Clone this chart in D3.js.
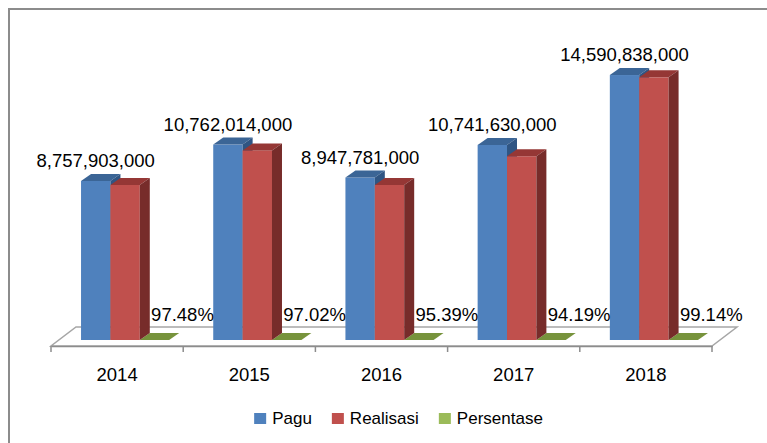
<!DOCTYPE html>
<html>
<head>
<meta charset="utf-8">
<script src="https://cdnjs.cloudflare.com/ajax/libs/d3/7.8.5/d3.min.js"></script>
<style>
  body { margin: 0; background: #fff; }
  text { font-family: "Liberation Sans", Arial, sans-serif; fill: #000; }
</style>
</head>
<body>
<div id="chart"></div>
<script>
// data
const years = ['2014', '2015', '2016', '2017', '2018'];
const pagu = [8757903000, 10762014000, 8947781000, 10741630000, 14590838000];
const realisasi = [8537000000, 10441000000, 8535000000, 10118000000, 14465000000];
const persentase = [97.48, 97.02, 95.39, 94.19, 99.14];
const seriesNames = ['Pagu', 'Realisasi', 'Persentase'];

const W = 767, H = 443;

// colours: front, top, side
const palette = {
  Pagu: ['#4f81bd', '#3b6596', '#2f5583'],
  Realisasi: ['#c0504d', '#953735', '#772c2a'],
  Persentase: ['#9bbb59', '#77933c', '#5f7530']
};

const svg = d3.select('#chart').append('svg')
  .attr('width', W)
  .attr('height', H);

// outer frame (runs off right / bottom edges)
svg.append('rect')
  .attr('x', 9).attr('y', 9)
  .attr('width', 820).attr('height', 500)
  .attr('fill', 'none')
  .attr('stroke', '#8c8c8c')
  .attr('stroke-width', 2);

// scales
const x = d3.scaleBand().domain(years).range([51, 712]).padding(0);
const xs = d3.scaleBand().domain(seriesNames).range([0, x.bandwidth()])
  .paddingInner(0).paddingOuter(0.75);
const y = d3.scaleLinear().domain([0, 16e9]).range([346, 346 - 16 * 18.16]);

// 3d offsets
const floorDx = 25, floorDy = -19;   // floor depth
const shiftX = 8, shiftY = -6;       // bar front plane inside floor
const dX = 10, dY = -7;              // bar depth

// floor
const x0 = x.range()[0], x1 = x.range()[1], yb = y(0);
svg.append('polygon')
  .attr('points', [[x0, yb], [x1, yb], [x1 + floorDx, yb + floorDy], [x0 + floorDx, yb + floorDy]].join(' '))
  .attr('fill', '#fff')
  .attr('stroke', '#a6a6a6')
  .attr('stroke-width', 1.5);

// axis front line + ticks
const xAxis = d3.axisBottom(x).tickSize(0).tickFormat(d => d);
const gx = svg.append('g')
  .attr('transform', `translate(0, ${yb})`)
  .call(xAxis);
gx.select('.domain').attr('stroke', '#8c8c8c').attr('stroke-width', 1.5);
gx.selectAll('text')
  .attr('font-size', '18.5px')
  .attr('y', 35)
  .attr('dy', 0)
  .style('font-family', '"Liberation Sans", Arial, sans-serif');

const bounds = years.map(d => x(d)).concat([x1]);
svg.append('g').selectAll('line')
  .data(bounds)
  .join('line')
  .attr('x1', d => d).attr('x2', d => d)
  .attr('y1', yb).attr('y2', yb + 6)
  .attr('stroke', '#8c8c8c')
  .attr('stroke-width', 1.5);

// bars
const rows = years.map((yr, i) => ({
  year: yr,
  vals: [
    { key: 'Persentase', v: persentase[i] },
    { key: 'Pagu', v: pagu[i] },
    { key: 'Realisasi', v: realisasi[i] }
  ]
}));

function box(g, left, w, top, bottom, cols) {
  // front
  g.append('rect')
    .attr('x', left).attr('y', top)
    .attr('width', w).attr('height', Math.max(0, bottom - top))
    .attr('fill', cols[0]);
  // top
  g.append('polygon')
    .attr('points', [[left, top], [left + w, top], [left + w + dX, top + dY], [left + dX, top + dY]].join(' '))
    .attr('fill', cols[1]);
  // side
  g.append('polygon')
    .attr('points', [[left + w, top], [left + w + dX, top + dY], [left + w + dX, bottom + dY], [left + w, bottom]].join(' '))
    .attr('fill', cols[2]);
}

const bars = svg.append('g').attr('transform', `translate(${shiftX}, ${shiftY})`);
rows.forEach(r => {
  const g = bars.append('g');
  r.vals.forEach(s => {
    box(g, x(r.year) + xs(s.key), xs.bandwidth(), y(s.v), y(0), palette[s.key]);
  });
});

// value labels for Pagu
svg.append('g').selectAll('text')
  .data(years)
  .join('text')
  .attr('x', (d, i) => x(d) + xs('Pagu') + xs.bandwidth() / 2 + shiftX)
  .attr('y', (d, i) => y(pagu[i]) + shiftY - 14)
  .attr('text-anchor', 'middle')
  .attr('font-size', '18.5px')
  .text((d, i) => d3.format(',')(pagu[i]));

// percentage labels
svg.append('g').selectAll('text')
  .data(years)
  .join('text')
  .attr('x', (d, i) => x(d) + xs('Persentase') + xs.bandwidth() / 2 + shiftX + 28)
  .attr('y', (d, i) => y(persentase[i]) - 25)
  .attr('text-anchor', 'middle')
  .attr('font-size', '18.5px')
  .text((d, i) => persentase[i].toFixed(2) + '%');

// legend
const legend = svg.append('g');
let lx = 0;
seriesNames.forEach(name => {
  const item = legend.append('g').attr('transform', `translate(${lx}, 0)`);
  item.append('rect')
    .attr('x', 0).attr('y', -11)
    .attr('width', 12).attr('height', 11)
    .attr('fill', palette[name][0]);
  const t = item.append('text')
    .attr('x', 18).attr('y', 0)
    .attr('font-size', '17px')
    .text(name);
  lx += 18 + t.node().getComputedTextLength() + 20;
});
const legendW = lx - 20;
legend.attr('transform', `translate(${398.5 - legendW / 2}, 424)`);
</script>
</body>
</html>
